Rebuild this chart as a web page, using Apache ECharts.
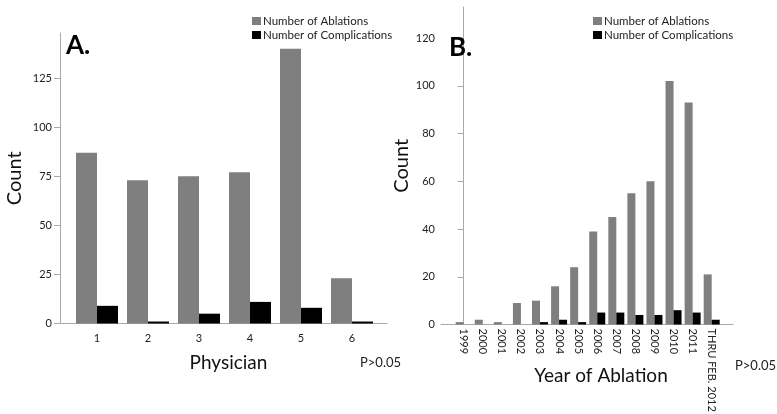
<!DOCTYPE html>
<html>
<head>
<meta charset="utf-8">
<script src="https://cdn.jsdelivr.net/npm/echarts@6/dist/echarts.min.js"></script>
<style>
  html, body { margin: 0; padding: 0; background: #fff; }
  #chart { width: 777px; height: 414px; }
</style>
</head>
<body>
<div id="chart"></div>
<script>
// Panel A: ablations and complications per physician
const physicians = ['1', '2', '3', '4', '5', '6'];
const ablationsByPhysician = [87, 73, 75, 77, 140, 23];
const complicationsByPhysician = [9, 1, 5, 11, 8, 1];
const ticksA = [0, 25, 50, 75, 100, 125];

// Panel B: ablations and complications per year
const years = ['1999', '2000', '2001', '2002', '2003', '2004', '2005', '2006',
               '2007', '2008', '2009', '2010', '2011', 'THRU FEB. 2012'];
const ablationsByYear = [1, 2, 1, 9, 10, 16, 24, 39, 45, 55, 60, 102, 93, 21];
const complicationsByYear = [0, 0, 0, 0, 1, 2, 1, 5, 5, 4, 4, 6, 5, 2];
const ticksB = [0, 20, 40, 60, 80, 100, 120];

const FONT = 'Lato, "Open Sans", sans-serif';
const GRAY = '#7f7f7f';
const AXIS = '#a8a8a8';
const TEXT = '#222';

const idxA = physicians.map((_, i) => i + 1);
const idxB = years.map((_, i) => i);

function yAxis(gridIndex, max, ticks, gap, margin) {
  return {
    type: 'value', gridIndex, min: 0, max,
    name: 'Count', nameLocation: 'middle', nameRotate: 90, nameGap: gap,
    nameTextStyle: { fontFamily: FONT, fontSize: 20, color: '#111' },
    axisLine: { show: true, lineStyle: { color: AXIS, width: 1 } },
    axisTick: { show: true, length: 6, lineStyle: { color: AXIS }, customValues: ticks },
    axisLabel: { fontFamily: FONT, fontSize: 11, color: TEXT, margin, customValues: ticks },
    splitLine: { show: false }
  };
}

function legend(left) {
  return {
    left, top: 10, orient: 'vertical', itemWidth: 9, itemHeight: 8, itemGap: 2,
    icon: 'rect', data: ['Number of Ablations', 'Number of Complications'],
    textStyle: { fontFamily: FONT, fontSize: 11.5, color: TEXT, padding: [0, 0, 0, -3] }
  };
}

function label(text, left, top, size, weight) {
  return {
    text, left, top, padding: 0,
    textStyle: { fontFamily: FONT, fontSize: size, fontWeight: weight, color: weight === 'bold' ? '#000' : TEXT }
  };
}

const chart = echarts.init(document.getElementById('chart'), null, { renderer: 'canvas' });
chart.setOption({
  animation: false,
  backgroundColor: '#fff',
  textStyle: { fontFamily: FONT },
  grid: [
    { left: 60, right: 777 - 387, top: 33, bottom: 414 - 323.5, outerBoundsMode: 'none', containLabel: false },
    { left: 441, right: 777 - 733, top: 7, bottom: 414 - 324.5, outerBoundsMode: 'none', containLabel: false }
  ],
  title: [
    label('A.', 66, 33, 26, 'bold'),
    label('B.', 449, 35, 26, 'bold'),
    label('P>0.05', 360, 356, 13, 'normal'),
    label('P>0.05', 735, 359, 13, 'normal')
  ],
  legend: [legend(247), legend(588)],
  xAxis: [
    {
      type: 'value', gridIndex: 0, min: 1 - 37 / 51, max: 1 - 37 / 51 + 327 / 51,
      name: 'Physician', nameLocation: 'middle', nameGap: 30, nameMoveOverlap: false,
      nameTextStyle: { fontFamily: FONT, fontSize: 19, color: '#111', padding: [0, 0, 0, 10] },
      axisLine: { show: true, onZero: false, lineStyle: { color: AXIS, width: 1 } },
      axisTick: { show: false },
      axisLabel: {
        customValues: idxA, margin: 9, fontFamily: FONT, fontSize: 11, color: TEXT,
        formatter: v => physicians[Math.round(v) - 1]
      },
      splitLine: { show: false }
    },
    {
      type: 'value', gridIndex: 1, min: -22.7 / 19.077, max: -22.7 / 19.077 + 292 / 19.077,
      name: 'Year of Ablation', nameLocation: 'middle', nameGap: 42, nameMoveOverlap: false,
      nameTextStyle: { fontFamily: FONT, fontSize: 19, color: '#111', padding: [0, 0, 0, 28] },
      axisLine: { show: true, onZero: false, lineStyle: { color: AXIS, width: 1 } },
      axisTick: { show: false },
      axisLabel: {
        customValues: idxB, margin: 4, rotate: -90, fontFamily: FONT, fontSize: 11, color: TEXT,
        formatter: v => years[Math.round(v)]
      },
      splitLine: { show: false }
    }
  ],
  yAxis: [
    yAxis(0, 148, ticksA, 35, 8),
    yAxis(1, 133, ticksB, 26, 6)
  ],
  series: [
    {
      name: 'Number of Ablations', type: 'bar', xAxisIndex: 0, yAxisIndex: 0,
      data: ablationsByPhysician.map((v, i) => [idxA[i], v]),
      barWidth: 21, barGap: '0%', itemStyle: { color: GRAY }
    },
    {
      name: 'Number of Complications', type: 'bar', xAxisIndex: 0, yAxisIndex: 0,
      data: complicationsByPhysician.map((v, i) => [idxA[i], v]),
      barWidth: 21, barGap: '0%', itemStyle: { color: '#000' }
    },
    {
      name: 'Number of Ablations', type: 'bar', xAxisIndex: 1, yAxisIndex: 1,
      data: ablationsByYear.map((v, i) => [idxB[i], v]),
      barWidth: 8, barGap: '0%', itemStyle: { color: GRAY }
    },
    {
      name: 'Number of Complications', type: 'bar', xAxisIndex: 1, yAxisIndex: 1,
      data: complicationsByYear.map((v, i) => [idxB[i], v]),
      barWidth: 8, barGap: '0%', itemStyle: { color: '#000' }
    }
  ]
});
</script>
</body>
</html>
